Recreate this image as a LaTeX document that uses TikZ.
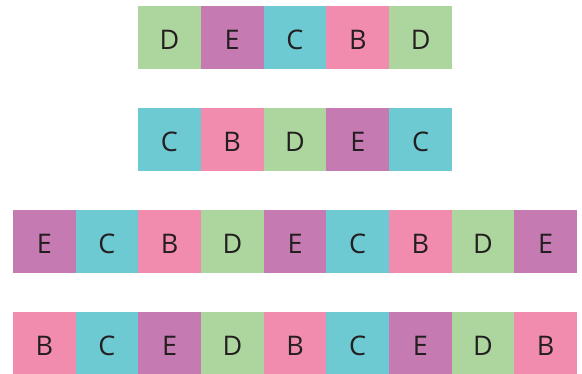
\documentclass[tikz,border=0pt]{standalone}
\usepackage{fontspec}
\setmainfont{Open Sans}
\definecolor{cgreen}{HTML}{ADD59E}
\definecolor{cpurple}{HTML}{C57AB2}
\definecolor{ccyan}{HTML}{6DCAD3}
\definecolor{cpink}{HTML}{F28CAE}
\definecolor{ctext}{HTML}{231F20}
\tikzset{
  sq/.style={rectangle, inner sep=0pt, outer sep=0pt, minimum width=62.9pt, minimum height=63pt,
    text=ctext, font=\fontsize{27}{27}\selectfont, text height=23pt, text depth=0pt},
  sqB/.style={sq, fill=cpink},
  sqC/.style={sq, fill=ccyan},
  sqD/.style={sq, fill=cgreen},
  sqE/.style={sq, fill=cpurple},
}
\begin{document}
\begin{tikzpicture}[x=1pt,y=-1pt]
\useasboundingbox (0,0) rectangle (582,373);
% row 1
\foreach \L [count=\i] in {D,E,C,B,D}
  \node[sq\L] (r1c\i) at ({138+62.8*(\i-0.5)},37.5) {\L};
% row 2
\foreach \L [count=\i] in {C,B,D,E,C}
  \node[sq\L] (r2c\i) at ({138+62.8*(\i-0.5)},139.5) {\L};
% row 3
\foreach \L [count=\i] in {E,C,B,D,E,C,B,D,E}
  \node[sq\L] (r3c\i) at ({13+62.67*(\i-0.5)},241.5) {\L};
% row 4
\foreach \L [count=\i] in {B,C,E,D,B,C,E,D,B}
  \node[sq\L] (r4c\i) at ({13+62.67*(\i-0.5)},343.5) {\L};
\end{tikzpicture}
\end{document}
